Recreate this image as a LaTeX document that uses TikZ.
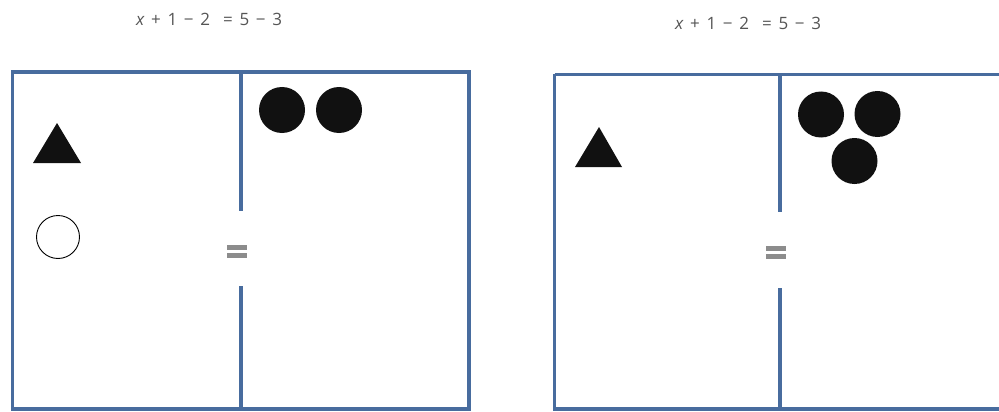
\documentclass[tikz,border=0pt]{standalone}
\usepackage{fontspec}
\setmainfont{Open Sans}
\newfontfamily\eqfont[WordSpace=1.5]{Open Sans}
\begin{document}
\begin{tikzpicture}[x=1pt,y=-1pt,
  frame/.style={draw={rgb,255:red,72;green,108;blue,158},line width=3.8pt},
  eqbar/.style={fill={rgb,255:red,140;green,140;blue,140}},
  dot/.style={circle,fill={rgb,255:red,17;green,17;blue,17},minimum size=46pt,inner sep=0pt},
  ring/.style={circle,draw=black,line width=0.9pt,minimum size=43pt,inner sep=0pt},
  tri/.style={fill={rgb,255:red,17;green,17;blue,17}},
  eqtext/.style={text={rgb,255:red,85;green,85;blue,85},font=\eqfont\fontsize{17}{19}\selectfont}]
\clip (0,0) rectangle (999,412);
\fill[white] (0,0) rectangle (999,412);
% titles
\node[eqtext] (t1) at (209,19) {\textit{x} + 1 − 2 \ = 5 − 3};
\node[eqtext] (t2) at (748,23) {\textit{x} + 1 − 2 \ = 5 − 3};
% left frame
\draw[frame] (12.5,72) rectangle (469,409);
\draw[frame] (241,72) -- (241,211);
\draw[frame] (241,286) -- (241,409);
\fill[eqbar] (227,245) rectangle (247,249.5);
\fill[eqbar] (227,253) rectangle (247,257.5);
% right frame
\draw[frame] (554.5,74.5) -- (1010,74.5);
\draw[frame] (554.5,74.5) -- (554.5,409) -- (1010,409);
\draw[frame] (780,74.5) -- (780,212);
\draw[frame] (780,288) -- (780,409);
\fill[eqbar] (766,246) rectangle (786,250.5);
\fill[eqbar] (766,254) rectangle (786,258.5);
% left shapes
\fill[tri] (57,123) -- (81,163) -- (33,163) -- cycle;
\node[ring] (c0) at (58,237) {};
\node[dot] (d1) at (282,110) {};
\node[dot] (d2) at (339,110) {};
% right shapes
\fill[tri] (599,127) -- (622,167) -- (575,167) -- cycle;
\node[dot] (d3) at (821,114.5) {};
\node[dot] (d4) at (877.5,114) {};
\node[dot] (d5) at (854.5,161) {};
\end{tikzpicture}
\end{document}
